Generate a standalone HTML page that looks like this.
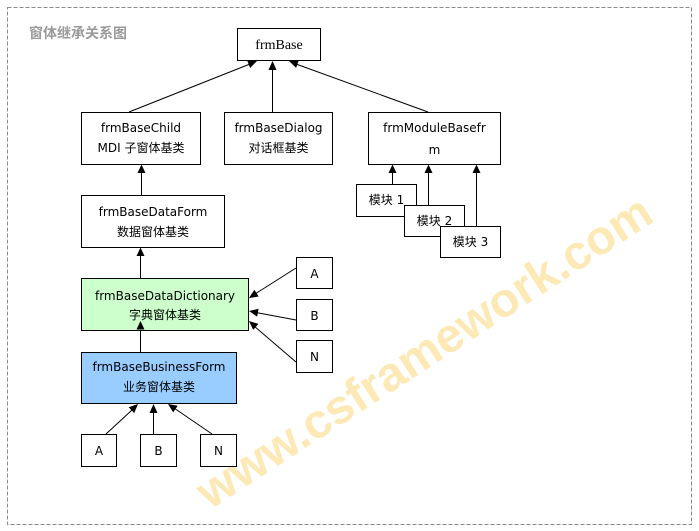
<!DOCTYPE html>
<html>
<head>
<meta charset="utf-8">
<style>
  html,body{margin:0;padding:0;background:#fff;}
  body{width:699px;height:531px;overflow:hidden;}
  svg{display:block;}
  .t{font-family:"DejaVu Sans","Noto Sans CJK SC",sans-serif;font-size:12px;fill:#000;}
</style>
</head>
<body>
<svg width="699" height="531" viewBox="0 0 699 531" xmlns="http://www.w3.org/2000/svg">
  <rect x="0" y="0" width="699" height="531" fill="#fff"/>
  <!-- watermark -->
  <text x="210" y="510" transform="rotate(-33 210 510)" font-family="Liberation Sans, Arial, sans-serif" font-weight="bold" font-size="48" fill="#fde9b6">www.csframework.com</text>

  <!-- dashed border -->
  <rect x="7.5" y="7.5" width="684" height="517" fill="none" stroke="#8a8a8a" stroke-width="1" stroke-dasharray="4,2"/>

  <!-- title -->
  <text x="29" y="38" font-family="Liberation Sans, 'Noto Sans CJK SC', sans-serif" font-weight="bold" font-size="14" fill="#9a9a9a">窗体继承关系图</text>

  <g stroke="#000" stroke-width="1" fill="none">
    <!-- connectors -->
    <line x1="129" y1="112" x2="250" y2="64"/>
    <line x1="272.5" y1="112" x2="272.5" y2="68"/>
    <line x1="428" y1="112" x2="296" y2="64"/>
    <line x1="141.5" y1="195" x2="141.5" y2="171"/>
    <line x1="140.5" y1="278" x2="140.5" y2="254"/>
    <line x1="140.5" y1="352" x2="140.5" y2="328"/>
    <line x1="296" y1="268" x2="255" y2="294"/>
    <line x1="296" y1="320" x2="256" y2="312.5"/>
    <line x1="296" y1="362" x2="254" y2="326"/>
    <line x1="106" y1="434" x2="132" y2="410"/>
    <line x1="153.5" y1="434" x2="153.5" y2="411"/>
    <line x1="212" y1="434" x2="174" y2="408"/>
    <line x1="392.5" y1="184" x2="392.5" y2="171"/>
    <line x1="428.5" y1="205" x2="428.5" y2="171"/>
    <line x1="476.5" y1="226" x2="476.5" y2="171"/>
  </g>

  <!-- boxes -->
  <g stroke="#000" stroke-width="1">
    <rect x="237.5" y="28.5" width="83" height="32" fill="#fff"/>
    <rect x="81.5" y="112.5" width="119" height="52" fill="#fff"/>
    <rect x="224.5" y="112.5" width="108" height="52" fill="#fff"/>
    <rect x="368.5" y="112.5" width="132" height="52" fill="#fff"/>
    <rect x="356.5" y="184.5" width="60" height="32" fill="#fff"/>
    <rect x="404.5" y="205.5" width="60" height="31" fill="#fff"/>
    <rect x="440.5" y="226.5" width="60" height="31" fill="#fff"/>
    <rect x="81.5" y="195.5" width="143" height="52" fill="#fff"/>
    <rect x="81.5" y="278.5" width="167" height="52" fill="#ccffcc"/>
    <rect x="81.5" y="352.5" width="155" height="51" fill="#99ccff"/>
    <rect x="296.5" y="257.5" width="36" height="31" fill="#fff"/>
    <rect x="296.5" y="299.5" width="36" height="31" fill="#fff"/>
    <rect x="296.5" y="340.5" width="36" height="32" fill="#fff"/>
    <rect x="81.5" y="434.5" width="35" height="32" fill="#fff"/>
    <rect x="140.5" y="434.5" width="36" height="32" fill="#fff"/>
    <rect x="200.5" y="434.5" width="36" height="32" fill="#fff"/>
  </g>

  <!-- arrowheads -->
  <g fill="#000" stroke="none">
    <polygon points="257,61 250.1,68 247.2,60.6"/>
    <polygon points="272.5,61 268.5,70 276.5,70"/>
    <polygon points="289,61 298.8,60.3 296.1,67.9"/>
    <polygon points="141.5,164.5 137.5,173 145.5,173"/>
    <polygon points="140.5,247.5 136.5,256 144.5,256"/>
    <polygon points="140.5,321 136.5,329.5 144.5,329.5"/>
    <polygon points="249,298 254.4,289.8 258.7,296.5"/>
    <polygon points="249,311 258.6,308.8 257.1,316.6"/>
    <polygon points="249,321 258.4,323.9 253.2,329.9"/>
    <polygon points="138,404 134.2,413.1 128.7,407.3"/>
    <polygon points="153.5,404 149.5,413 157.5,413"/>
    <polygon points="168,404 177.7,405.8 173.2,412.4"/>
    <polygon points="392.5,164.5 388.5,173 396.5,173"/>
    <polygon points="428.5,164.5 424.5,173 432.5,173"/>
    <polygon points="476.5,164.5 472.5,173 480.5,173"/>
  </g>

  <!-- labels -->
  <text x="279" y="49" text-anchor="middle" font-family="Liberation Serif, serif" font-size="14" fill="#000">frmBase</text>

  <g class="t" text-anchor="middle">
    <text x="141" y="132">frmBaseChild</text>
    <text x="141" y="152">MDI 子窗体基类</text>

    <text x="278.5" y="132">frmBaseDialog</text>
    <text x="278.5" y="152">对话框基类</text>

    <text x="434.5" y="132">frmModuleBasefr</text>
    <text x="434.5" y="154">m</text>

    <text x="386.5" y="204">模块 1</text>
    <text x="434.5" y="225">模块 2</text>
    <text x="470.5" y="246">模块 3</text>

    <text x="153" y="216">frmBaseDataForm</text>
    <text x="153" y="236">数据窗体基类</text>

    <text x="165" y="300">frmBaseDataDictionary</text>
    <text x="165" y="319">字典窗体基类</text>

    <text x="159" y="371">frmBaseBusinessForm</text>
    <text x="159" y="391">业务窗体基类</text>

    <text x="314.5" y="278">A</text>
    <text x="314.5" y="320">B</text>
    <text x="314.5" y="361">N</text>

    <text x="99" y="455">A</text>
    <text x="158.5" y="455">B</text>
    <text x="218.5" y="455">N</text>
  </g>
</svg>
</body>
</html>
